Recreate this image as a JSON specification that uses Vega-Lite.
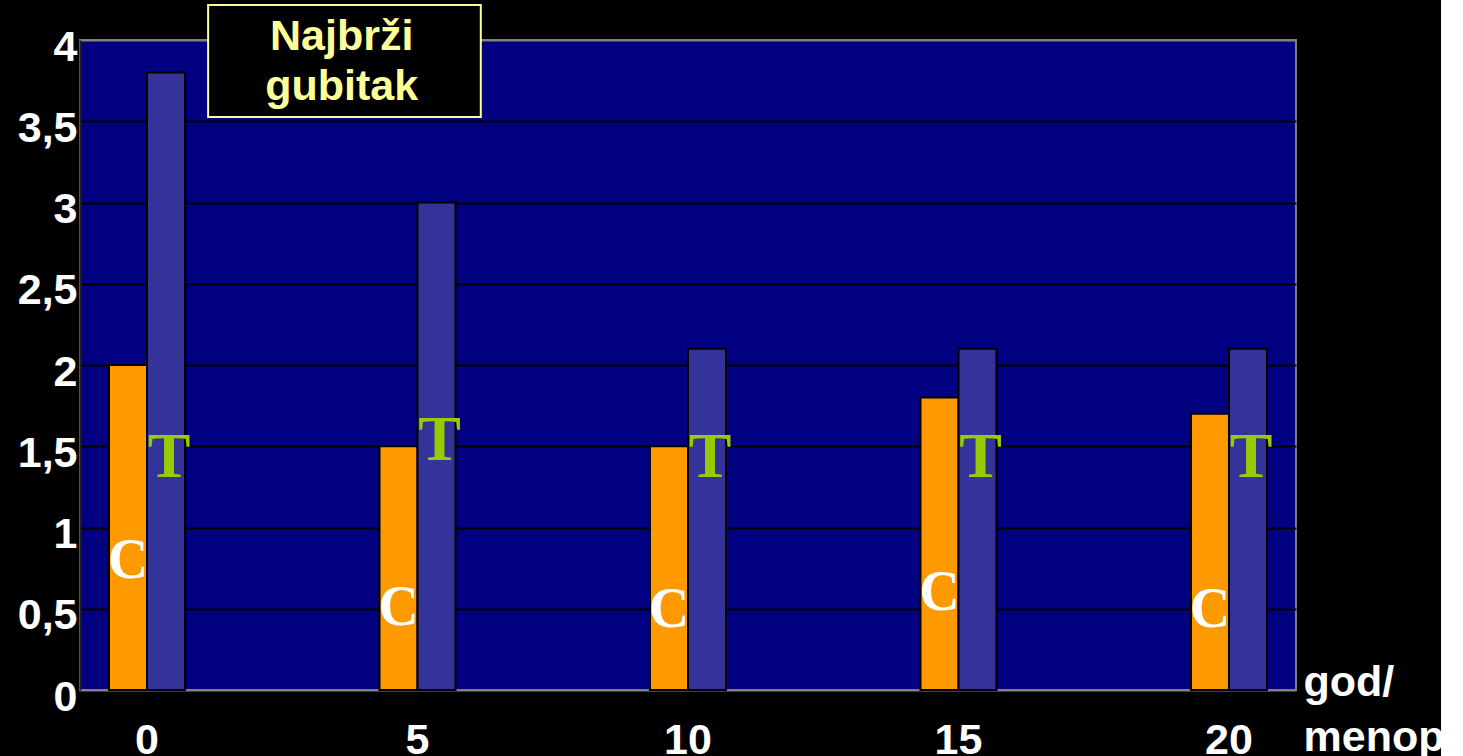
{
  "$schema": "https://vega.github.io/schema/vega-lite/v6.json",
  "width": 1216,
  "height": 650,
  "autosize": {"type": "none"},
  "padding": {"left": 80, "top": 40, "right": 145, "bottom": 66},
  "background": "black",
  "config": {
    "view": {"fill": "#000080", "stroke": "#808080", "strokeWidth": 2},
    "font": "Liberation Sans"
  },
  "datasets": {
    "bars": [
      {"year": "0", "series": "C", "value": 2.0, "ly": 0.69},
      {"year": "0", "series": "T", "value": 3.8, "ly": 1.31},
      {"year": "5", "series": "C", "value": 1.5, "ly": 0.40},
      {"year": "5", "series": "T", "value": 3.0, "ly": 1.415},
      {"year": "10", "series": "C", "value": 1.5, "ly": 0.39},
      {"year": "10", "series": "T", "value": 2.1, "ly": 1.31},
      {"year": "15", "series": "C", "value": 1.8, "ly": 0.49},
      {"year": "15", "series": "T", "value": 2.1, "ly": 1.31},
      {"year": "20", "series": "C", "value": 1.7, "ly": 0.39},
      {"year": "20", "series": "T", "value": 2.1, "ly": 1.31}
    ],
    "note": [
      {"x1": 1.13, "x2": 6.17, "y1": 3.526, "y2": 4.215, "tx": 3.6, "ty": 3.938, "label": "Najbrži\ngubitak"}
    ]
  },
  "layer": [
    {
      "data": {"name": "bars"},
      "encoding": {
        "x": {
          "field": "year",
          "type": "ordinal",
          "sort": ["0", "5", "10", "15", "20"],
          "scale": {"paddingInner": 0.719, "paddingOuter": 0.1072},
          "axis": {
            "labelAngle": 0,
            "labelFont": "Liberation Sans",
            "labelFontWeight": "bold",
            "labelFontSize": 43,
            "labelColor": "white",
            "labelPadding": 29,
            "ticks": false,
            "tickSize": 0,
            "domain": false,
            "grid": false,
            "title": ["god/", "menop"],
            "titleX": 1223,
            "titleY": 5,
            "titleAlign": "left",
            "titleAnchor": "start",
            "titleBaseline": "alphabetic",
            "titleLineHeight": 55,
            "titleFont": "Liberation Sans",
            "titleFontWeight": "bold",
            "titleFontSize": 43,
            "titleColor": "white"
          }
        },
        "xOffset": {
          "field": "series",
          "type": "nominal",
          "sort": ["C", "T"],
          "scale": {"paddingInner": 0, "paddingOuter": 0}
        }
      },
      "layer": [
        {
          "mark": {"type": "bar", "stroke": "black", "strokeWidth": 2},
          "encoding": {
            "y": {
              "field": "value",
              "type": "quantitative",
              "scale": {"domain": [0, 4]},
              "axis": {
                "values": [0, 0.5, 1, 1.5, 2, 2.5, 3, 3.5, 4],
                "labelExpr": "replace(toString(datum.value), '.', ',')",
                "labelFont": "Liberation Sans",
                "labelFontWeight": "bold",
                "labelFontSize": 43,
                "labelColor": "white",
                "labelPadding": 3,
                "labelOffset": 7,
                "ticks": false,
                "tickSize": 0,
                "domain": true,
                "domainColor": "#222222",
                "domainWidth": 2,
                "grid": true,
                "gridColor": {"condition": {"test": "datum.value === 0 || datum.value === 4", "value": "#808080"}, "value": "black"},
                "gridWidth": 2,
                "gridOpacity": 1,
                "title": null
              }
            },
            "color": {
              "field": "series",
              "type": "nominal",
              "scale": {"domain": ["C", "T"], "range": ["#ff9900", "#333399"]},
              "legend": null
            }
          }
        },
        {
          "transform": [{"filter": "datum.series === 'C'"}],
          "mark": {"type": "text", "font": "Liberation Serif", "fontWeight": "bold", "fontSize": 56, "color": "white", "baseline": "alphabetic", "align": "center"},
          "encoding": {
            "y": {"field": "ly", "type": "quantitative"},
            "text": {"field": "series"}
          }
        },
        {
          "transform": [{"filter": "datum.series === 'T'"}],
          "mark": {"type": "text", "font": "Liberation Serif", "fontWeight": "bold", "fontSize": 64, "color": "#99cc00", "baseline": "alphabetic", "align": "center", "dx": 3},
          "encoding": {
            "y": {"field": "ly", "type": "quantitative"},
            "text": {"field": "series"}
          }
        }
      ]
    },
    {
      "data": {"name": "note"},
      "layer": [
        {
          "mark": {"type": "rect", "fill": "black", "stroke": "#ffff99", "strokeWidth": 2},
          "encoding": {
            "x": {"field": "x1", "type": "quantitative", "scale": {"domain": [-1.2384, 21.2384], "nice": false, "zero": false}, "axis": null},
            "x2": {"field": "x2"},
            "y": {"field": "y1", "type": "quantitative", "scale": {"domain": [0, 4], "nice": false}, "axis": null},
            "y2": {"field": "y2"}
          }
        },
        {
          "mark": {"type": "text", "font": "Liberation Sans", "fontWeight": "bold", "fontSize": 43, "color": "#ffff99", "align": "center", "baseline": "alphabetic", "lineBreak": "\n", "lineHeight": 50},
          "encoding": {
            "x": {"field": "tx", "type": "quantitative", "scale": {"domain": [-1.2384, 21.2384], "nice": false, "zero": false}, "axis": null},
            "y": {"field": "ty", "type": "quantitative", "scale": {"domain": [0, 4], "nice": false}, "axis": null},
            "text": {"field": "label"}
          }
        }
      ]
    }
  ],
  "resolve": {"scale": {"x": "independent", "y": "independent"}, "axis": {"x": "independent", "y": "independent"}}
}
